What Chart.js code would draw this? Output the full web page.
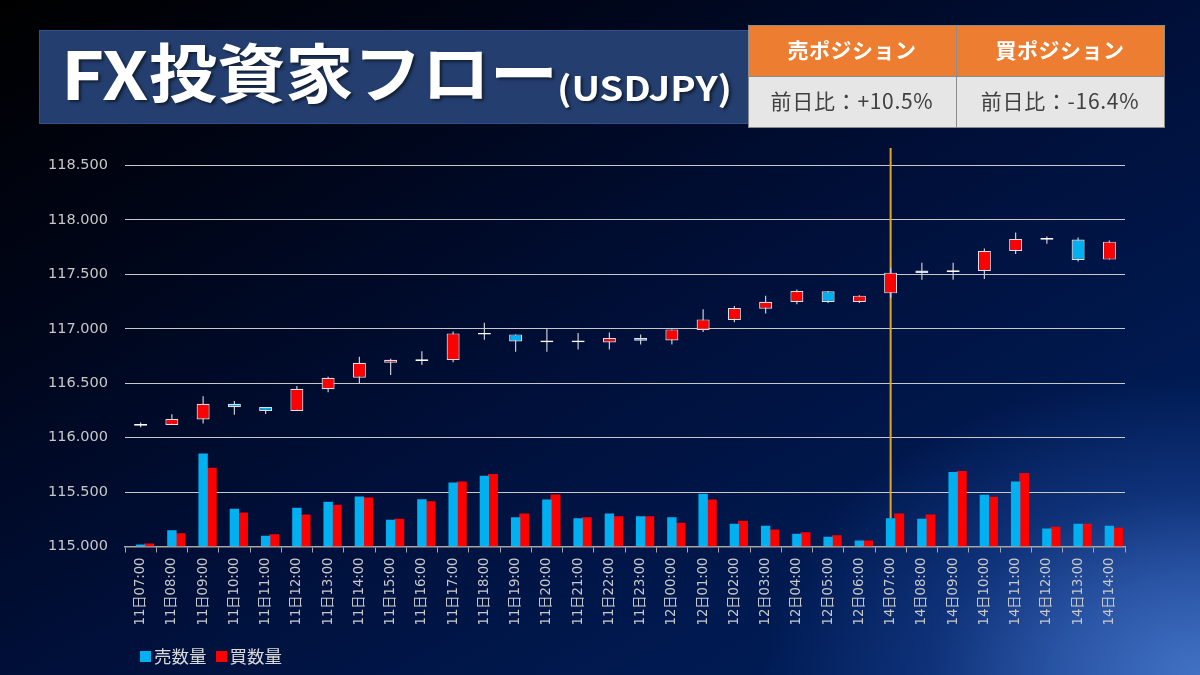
<!DOCTYPE html>
<html lang="ja">
<head>
<meta charset="utf-8">
<title>FX投資家フロー</title>
<script src="https://cdn.jsdelivr.net/npm/chart.js@4/dist/chart.umd.min.js"></script>
<style>
  html, body { margin: 0; padding: 0; }
  body {
    width: 1200px; height: 675px; position: relative; overflow: hidden;
    font-family: "Noto Sans CJK JP", "Noto Sans", sans-serif;
    background:
      radial-gradient(ellipse 440px 300px at 100% 100%, #4272c4 0%, #2c57a8 30%, rgba(20,58,134,.7) 62%, rgba(0,30,92,0) 100%),
      linear-gradient(to bottom right, #000000 0%, #000516 22%, #000f38 50%, #00194f 75%, #00205f 100%);
  }
  #chart { position: absolute; left: 0; top: 0; width: 1200px; height: 675px; }
  #title {
    position: absolute; left: 39px; top: 30px; width: 730px; height: 94px;
    background: #243f6f; border: 1px solid #2f5088; box-sizing: border-box;
    color: #fff; font-weight: 700; white-space: nowrap; line-height: 94px;
    text-shadow: 2px 2px 3px rgba(0,0,0,.55);
  }
  #title span { position: absolute; transform-origin: left center; }
  #title .fx { left: 21px; top: -7px; font-size: 66px; transform: scaleX(1.12); }
  #title .jp { left: 109px; top: -9px; font-size: 64px; transform: scaleX(1.065); }
  #title .pair { left: 516.5px; top: 9px; font-size: 34px; transform: scaleX(1.125); }
  #pos {
    position: absolute; left: 747.5px; top: 25px; width: 417px; height: 102px;
    border-collapse: collapse; table-layout: fixed;
  }
  #pos td { border: 1.5px solid #8c8c8c; text-align: center; padding: 0 0 5px; box-sizing: border-box; }
  #pos .head td { height: 51px; background: #ed7d31; color: #fff; font-weight: 700; font-size: 21px; letter-spacing: .5px; }
  #pos .body td { height: 51px; background: #e7e6e6; color: #404040; font-size: 21px; letter-spacing: .7px; }
  #legend { position: absolute; left: 0; top: 0; color: #d9d9d9; font-size: 17.5px; line-height: 22px; }
  #legend i { position: absolute; top: 651px; width: 10.5px; height: 11px; }
  #legend span { position: absolute; top: 645px; white-space: nowrap; }
</style>
</head>
<body>
<canvas id="chart" width="1200" height="675"></canvas>
<div id="title"><span class="fx">FX</span><span class="jp">投資家フロー</span><span class="pair">(USDJPY)</span></div>
<table id="pos">
  <tr class="head"><td>売ポジション</td><td>買ポジション</td></tr>
  <tr class="body"><td>前日比：+10.5%</td><td>前日比：-16.4%</td></tr>
</table>
<div id="legend">
  <i style="left:140px;background:#00b0f0"></i><span style="left:154px">売数量</span>
  <i style="left:216px;background:#ff0000"></i><span style="left:229.5px">買数量</span>
</div>
<script>
const labels = [
  "11日07:00","11日08:00","11日09:00","11日10:00","11日11:00","11日12:00","11日13:00","11日14:00",
  "11日15:00","11日16:00","11日17:00","11日18:00","11日19:00","11日20:00","11日21:00","11日22:00",
  "11日23:00","12日00:00","12日01:00","12日02:00","12日03:00","12日04:00","12日05:00","12日06:00",
  "14日07:00","14日08:00","14日09:00","14日10:00","14日11:00","14日12:00","14日13:00","14日14:00"
];

// レート（ローソク足）
const open = [116.108,116.117,116.166,116.310,116.282,116.245,116.445,116.550,116.687,116.704,116.712,116.946,116.948,116.875,116.875,116.874,116.914,116.893,116.988,117.080,117.184,117.245,117.344,117.245,117.325,117.512,117.522,117.530,117.715,117.817,117.819,117.635];
const close = [116.124,116.172,116.310,116.280,116.245,116.448,116.550,116.687,116.715,116.720,116.957,116.962,116.883,116.891,116.891,116.914,116.890,116.994,117.086,117.190,117.248,117.347,117.245,117.304,117.515,117.534,117.538,117.715,117.825,117.833,117.632,117.800];
const high = [116.138,116.215,116.380,116.337,116.282,116.475,116.560,116.742,116.724,116.794,116.975,117.055,116.948,116.997,116.960,116.966,116.948,116.994,117.180,117.210,117.304,117.360,117.347,117.308,117.560,117.607,117.607,117.736,117.883,117.847,117.837,117.810];
const low = [116.095,116.115,116.130,116.210,116.218,116.245,116.417,116.500,116.574,116.666,116.693,116.900,116.788,116.788,116.810,116.810,116.856,116.856,116.970,117.060,117.140,117.224,117.236,117.236,117.282,117.450,117.450,117.457,117.687,117.780,117.617,117.635];

// 売買数量
const sellVolume = [2,16.3,93,37.7,10.7,38.7,44.7,50,26.7,47.3,64,70.7,29.3,47,28.3,33,30.3,29.3,52.7,22.7,20.7,12.7,9.7,6,28.3,27.7,74.3,51.7,65,18,22.7,20.7];
const buyVolume = [3,13.3,78.7,34,12.3,32,41.7,49,27.7,45.3,65,72.3,33,52,29.3,30.3,30.3,23.7,47,25.7,17,14.3,11.3,6,33,32,75.3,49.7,73.3,19.7,22.7,18.7];

const markerLabel = "14日07:00";
const yMin = 115, yMax = 118.66, yStep = 0.5;

const BLUE = "#00b0f0", RED = "#ff0000";
const FONT = "'DejaVu Sans', 'Noto Sans CJK JP'";

function candleColor(i) {
  if (Math.abs(close[i] - open[i]) < 0.018) return "#ffffff";
  return close[i] >= open[i] ? RED : BLUE;
}

new Chart(document.getElementById("chart"), {
  type: "bar",
  data: {
    labels: labels,
    datasets: [
      { label: "始値終値", order: 1, grouped: false, yAxisID: "y",
        data: labels.map((_, i) => [open[i], close[i]]),
        backgroundColor: labels.map((_, i) => candleColor(i)),
        borderColor: labels.map((_, i) => candleColor(i) === "#ffffff" ? "#ffffff" : "#dcdee4"),
        borderWidth: 1.2, borderSkipped: false, barPercentage: 0.52 },
      { label: "高値安値", order: 2, grouped: false, yAxisID: "y",
        data: labels.map((_, i) => [low[i], high[i]]),
        backgroundColor: "#c9ccd4", maxBarThickness: 1.2, barPercentage: 0.1 },
      { label: "", order: 3, yAxisID: "y2", data: labels.map(() => null), categoryPercentage: 0.826 },
      { label: "売数量", order: 4, yAxisID: "y2", data: sellVolume, backgroundColor: BLUE, categoryPercentage: 0.826, barPercentage: 1.09 },
      { label: "買数量", order: 5, yAxisID: "y2", data: buyVolume, backgroundColor: RED, categoryPercentage: 0.826, barPercentage: 1.16 },
      { label: "区切り", order: 6, grouped: false, yAxisID: "y",
        data: labels.map(l => l === markerLabel ? [yMin, yMax] : null),
        backgroundColor: "#e0a526", maxBarThickness: 2, barPercentage: 0.1 }
    ]
  },
  options: {
    responsive: false,
    animation: false,
    layout: { padding: { top: 148, right: 75, left: 0, bottom: 0 } },
    plugins: {
      tooltip: { enabled: false },
      legend: { display: false }
    },
    scales: {
      x: {
        offset: true,
        afterFit: s => { s.height = 128.5; },
        border: { color: "#a6a6a6", width: 1.5 },
        grid: { drawOnChartArea: false, drawTicks: true, tickLength: 6, color: "#a6a6a6", offset: true },
        ticks: {
          autoSkip: false, minRotation: 90, maxRotation: 90, padding: 5, color: "#c8c8c8",
          font: { family: FONT, size: 13.2 }
        }
      },
      y: {
        min: yMin, max: yMax,
        afterFit: s => { s.width = 125; },
        afterBuildTicks: s => { s.ticks = s.ticks.filter(t => t.value <= 118.5); },
        border: { display: false },
        grid: { color: "#c8c8c8", lineWidth: 1, drawTicks: false },
        ticks: {
          stepSize: yStep, padding: 17, color: "#c8c8c8",
          font: { family: FONT, size: 14.5 },
          callback: v => v.toFixed(3)
        }
      },
      y2: { display: false, min: 0, max: 398 }
    }
  }
});
</script>
</body>
</html>
